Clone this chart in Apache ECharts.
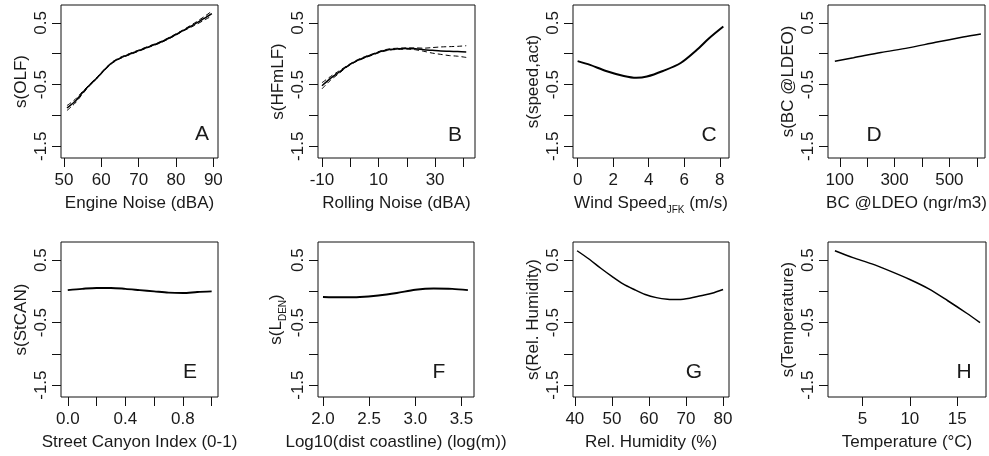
<!DOCTYPE html>
<html><head><meta charset="utf-8">
<script src="https://cdn.jsdelivr.net/npm/echarts@6/dist/echarts.min.js"></script>
<style>html,body{margin:0;padding:0;background:#fff}#c{width:989px;height:456px}</style>
</head><body><div id="c"></div>
<script>
// ---- data ----
const aX = [50.8, 53, 55, 57, 59, 61, 63, 65, 67, 70, 73, 76, 79, 82, 85, 88, 89.6];
const aY = [-0.88, -0.77, -0.63, -0.50, -0.38, -0.25, -0.14, -0.07, -0.02, 0.05, 0.12, 0.19, 0.28, 0.38, 0.48, 0.59, 0.65];
const aUp = [-0.84, -0.74, -0.61, -0.49, -0.37, -0.24, -0.13, -0.06, -0.01, 0.06, 0.13, 0.20, 0.29, 0.39, 0.50, 0.62, 0.69];
const aLo = [-0.92, -0.80, -0.65, -0.51, -0.39, -0.26, -0.15, -0.08, -0.03, 0.04, 0.11, 0.18, 0.27, 0.37, 0.46, 0.56, 0.61];

const bX = [-10, -7, -4, -1, 2, 5, 8, 11, 14, 17, 20, 23, 26, 29, 32, 35, 38, 41];
const bY = [-0.52, -0.40, -0.30, -0.20, -0.12, -0.06, -0.01, 0.04, 0.07, 0.08, 0.085, 0.08, 0.065, 0.055, 0.045, 0.04, 0.035, 0.03];
const bUp = [-0.47, -0.37, -0.28, -0.19, -0.11, -0.05, 0.00, 0.05, 0.08, 0.09, 0.095, 0.095, 0.09, 0.10, 0.11, 0.115, 0.12, 0.13];
const bLo = [-0.57, -0.43, -0.32, -0.21, -0.13, -0.07, -0.02, 0.03, 0.06, 0.07, 0.075, 0.065, 0.04, 0.01, -0.01, -0.03, -0.04, -0.06];

const cX = [0, 0.7, 1.6, 2.6, 3.3, 3.9, 4.8, 5.8, 6.7, 7.4, 8.2];
const cY = [-0.12, -0.18, -0.28, -0.36, -0.39, -0.37, -0.28, -0.15, 0.06, 0.25, 0.44];

const dX = [82, 150, 250, 350, 450, 550, 615];
const dY = [-0.12, -0.065, 0.02, 0.095, 0.185, 0.27, 0.32];

const eX = [0, 0.1, 0.2, 0.3, 0.4, 0.5, 0.6, 0.7, 0.8, 0.9, 1.0];
const eY = [0.02, 0.04, 0.055, 0.055, 0.04, 0.02, 0.0, -0.02, -0.025, -0.01, 0.0];

const fX = [2.0, 2.2, 2.4, 2.6, 2.8, 3.0, 3.2, 3.4, 3.57];
const fY = [-0.09, -0.095, -0.09, -0.065, -0.025, 0.025, 0.045, 0.04, 0.02];

const gX = [40.6, 44, 47, 50, 53, 56, 59, 62, 65, 68, 71, 74, 77, 80];
const gY = [0.65, 0.51, 0.37, 0.24, 0.12, 0.03, -0.05, -0.10, -0.125, -0.13, -0.11, -0.07, -0.03, 0.03];

const hX = [2.1, 4, 6, 8, 10, 12, 14, 16, 17.4];
const hY = [0.65, 0.54, 0.44, 0.32, 0.19, 0.04, -0.15, -0.35, -0.50];

// tick values
const yTicks = [-1.5, -1, -0.5, 0, 0.5];
const yLabels = [-1.5, -0.5, 0.5];
const aTicks = [50, 60, 70, 80, 90], aLabels = [50, 60, 70, 80, 90];
const bTicks = [-10, 0, 10, 20, 30, 40], bLabels = [-10, 10, 30];
const cTicks = [0, 2, 4, 6, 8], cLabels = [0, 2, 4, 6, 8];
const dTicks = [100, 200, 300, 400, 500, 600], dLabels = [100, 300, 500];
const eTicks = [0, 0.2, 0.4, 0.6, 0.8, 1.0], eLabels = [0, 0.4, 0.8];
const fTicks = [2.0, 2.5, 3.0, 3.5], fLabels = [2.0, 2.5, 3.0, 3.5];
const gTicks = [40, 50, 60, 70, 80], gLabels = [40, 50, 60, 70, 80];
const hTicks = [5, 10, 15], hLabels = [5, 10, 15];

const FONT = "'Liberation Sans', Arial, sans-serif";
const TXT = '#1a1a1a';
const pairs = (xs, ys) => xs.map((x, i) => [x, ys[i]]);

const panels = [
  {g:{left:61, top:5, width:157, height:153}, xr:[49.2, 91.25], xt:aTicks, xl:aLabels, dec:0,
   xName:'Engine Noise (dBA)', yName:'s(OLF)', xs:aX, ys:aY, up:aUp, lo:aLo, letter:'A', lx:202, ly:134},
  {g:{left:318, top:5, width:157, height:153}, xr:[-11.4, 44.1], xt:bTicks, xl:bLabels, dec:0,
   xName:'Rolling Noise (dBA)', yName:'s(HFmLF)', xs:bX, ys:bY, up:bUp, lo:bLo, letter:'B', lx:455, ly:135},
  {g:{left:573, top:5, width:156, height:153}, xr:[-0.26, 8.52], xt:cTicks, xl:cLabels, dec:0,
   xName:'{a|Wind Speed}{b|JFK}{a| (m/s)}', yName:'s(speed,act)', xs:cX, ys:cY, letter:'C', lx:709, ly:135, w:2},
  {g:{left:828, top:5, width:157, height:153}, xr:[57, 630], xt:dTicks, xl:dLabels, dec:0,
   xName:'BC @LDEO (ngr/m3)', yName:'s(BC @LDEO)', xs:dX, ys:dY, letter:'D', lx:874, ly:135},
  {g:{left:61, top:242, width:157, height:155}, xr:[-0.047, 1.044], xt:eTicks, xl:eLabels, dec:1,
   xName:'Street Canyon Index (0-1)', yName:'s(StCAN)', xs:eX, ys:eY, letter:'E', lx:190, ly:372, w:2},
  {g:{left:318, top:242, width:156, height:155}, xr:[1.946, 3.636], xt:fTicks, xl:fLabels, dec:1,
   xName:'Log10(dist coastline) (log(m))', yName:'{a|s(L}{b|DEN}{a|)}', xs:fX, ys:fY, letter:'F', lx:439, ly:372, w:2},
  {g:{left:573, top:242, width:156, height:155}, xr:[39.5, 81.6], xt:gTicks, xl:gLabels, dec:0,
   xName:'Rel. Humidity (%)', yName:'s(Rel. Humidity)', xs:gX, ys:gY, letter:'G', lx:694, ly:372},
  {g:{left:828, top:242, width:158, height:155}, xr:[1.37, 18.03], xt:hTicks, xl:hLabels, dec:0,
   xName:'Temperature (°C)', yName:'s(Temperature)', xs:hX, ys:hY, letter:'H', lx:964, ly:372}
];

const rich = {
  a: {fontSize: 17, fontFamily: FONT, color: TXT, lineHeight: 20, verticalAlign: 'top'},
  b: {fontSize: 10, fontFamily: FONT, color: TXT, lineHeight: 10, verticalAlign: 'bottom'}
};
const richG = {
  a: {fontSize: 17, fontFamily: FONT, fill: TXT, lineHeight: 20, verticalAlign: 'top'},
  b: {fontSize: 10, fontFamily: FONT, fill: TXT, lineHeight: 10, verticalAlign: 'bottom'}
};

const grid = [], xAxis = [], yAxis = [], series = [], graphic = [];
panels.forEach((p, i) => {
  grid.push(Object.assign({show: true, borderColor: '#111', borderWidth: 1, backgroundColor: 'transparent'}, p.g));
  xAxis.push({
    type: 'value', gridIndex: i, min: p.xr[0], max: p.xr[1],
    axisLine: {show: false, onZero: false}, splitLine: {show: false},
    axisTick: {show: true, inside: false, length: 9, customValues: p.xt, lineStyle: {color: '#111', width: 1}},
    axisLabel: {customValues: p.xl, margin: 14, fontSize: 17, fontFamily: FONT, color: TXT,
      formatter: v => Number(v).toFixed(p.dec)},
    name: p.xName, nameLocation: 'middle', nameGap: 37,
    nameTextStyle: {fontSize: 17, fontFamily: FONT, color: TXT, rich: rich}
  });
  yAxis.push({
    type: 'value', gridIndex: i, min: -1.69, max: 0.79,
    axisLine: {show: false, onZero: false}, splitLine: {show: false},
    axisTick: {show: true, inside: false, length: 9, customValues: yTicks, lineStyle: {color: '#111', width: 1}},
    axisLabel: {customValues: yLabels, rotate: 90, margin: 11, fontSize: 17, fontFamily: FONT, color: TXT,
      formatter: v => Number(v).toFixed(1)}
  });
  series.push({
    type: 'line', xAxisIndex: i, yAxisIndex: i, data: pairs(p.xs, p.ys), smooth: 0.3,
    showSymbol: false, silent: true, lineStyle: {color: '#000', width: p.w || 1.5}, z: 3
  });
  if (p.up) {
    [p.up, p.lo].forEach(band => series.push({
      type: 'line', xAxisIndex: i, yAxisIndex: i, data: pairs(p.xs, band), smooth: 0.3,
      showSymbol: false, silent: true, lineStyle: {color: '#000', width: 1, type: [5, 3]}, z: 2
    }));
  }
  // y-axis title (rotated)
  graphic.push({type: 'text', x: p.g.left - 40, y: p.g.top + p.g.height / 2, rotation: Math.PI / 2,
    style: {text: p.yName, rich: richG, fontSize: 17, fontFamily: FONT, fill: TXT, align: 'center', verticalAlign: 'middle'}});
  // panel letter
  graphic.push({type: 'text', x: p.lx, y: p.ly,
    style: {text: p.letter, fontSize: 21, fontFamily: FONT, fill: TXT, align: 'center', verticalAlign: 'middle'}});
});

const chart = echarts.init(document.getElementById('c'), null, {renderer: 'canvas'});
chart.setOption({animation: false, backgroundColor: '#fff', grid, xAxis, yAxis, series, graphic});
</script>
</body></html>
